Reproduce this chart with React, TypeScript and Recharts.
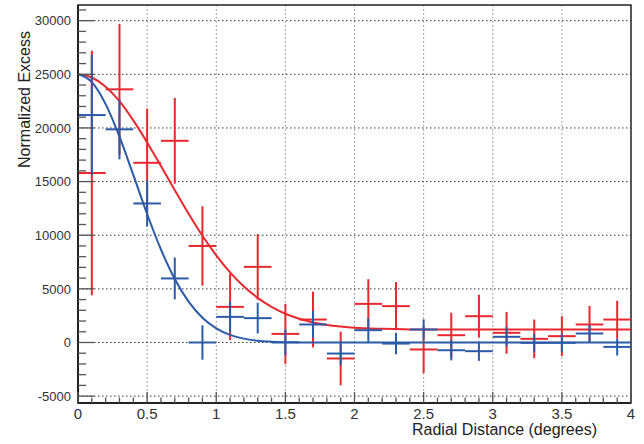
import React from 'react';
import { ComposedChart, Line, Scatter, ErrorBar, XAxis, YAxis, CartesianGrid, ReferenceArea } from 'recharts';

// bin centres (degrees), each bin is +-0.1 wide
const X_BINS = [0.1, 0.3, 0.5, 0.7, 0.9, 1.1, 1.3, 1.5, 1.7, 1.9, 2.1, 2.3, 2.5, 2.7, 2.9, 3.1, 3.3, 3.5, 3.7, 3.9];
const X_HALF_WIDTH = 0.1;

const RED_Y = [15800, 23600, 16750, 18800, 9000, 3320, 7050, 800, 2140, -1490, 3600, 3390, -650, 680, 2450, 900, 340, 590, 1680, 2140];
const RED_ERR = [11400, 6100, 5050, 4000, 3700, 3100, 3050, 2800, 2600, 2500, 2300, 2250, 2200, 2100, 2000, 1950, 1800, 1850, 1720, 1750];

const BLUE_Y = [21200, 19870, 12960, 5970, 0, 2390, 2270, 0, 1680, -1030, 1150, -100, 1210, -720, -810, 530, -30, -30, 840, -410];
const BLUE_ERR = [5600, 2800, 2150, 1950, 1600, 1430, 1430, 1200, 1250, 1100, 1100, 1000, 950, 950, 900, 900, 820, 850, 800, 800];

// fitted curves
const CURVE_X = [0, 0.1, 0.2, 0.3, 0.4, 0.5, 0.6, 0.7, 0.8, 0.9, 1.0, 1.1, 1.2, 1.3, 1.4, 1.5, 1.6, 1.7, 1.8, 1.9, 2.0, 2.2, 2.4, 2.6, 3.0, 3.5, 4.0];
const RED_FIT = [25000, 24700, 23850, 22500, 20700, 18650, 16450, 14200, 12000, 9950, 8130, 6540, 5220, 4160, 3320, 2680, 2210, 1870, 1630, 1480, 1370, 1270, 1220, 1210, 1200, 1200, 1200];
const BLUE_FIT = [25000, 24270, 22220, 19180, 15620, 11980, 8670, 5920, 3810, 2310, 1320, 710, 360, 170, 80, 30, 10, 0, 0, 0, 0, 0, 0, 0, 0, 0, 0];

const X_TICKS = [0, 0.1, 0.2, 0.3, 0.4, 0.5, 0.6, 0.7, 0.8, 0.9, 1, 1.1, 1.2, 1.3, 1.4, 1.5, 1.6, 1.7, 1.8, 1.9, 2, 2.1, 2.2, 2.3, 2.4, 2.5, 2.6, 2.7, 2.8, 2.9, 3, 3.1, 3.2, 3.3, 3.4, 3.5, 3.6, 3.7, 3.8, 3.9, 4];
const Y_TICKS = [-5000, -4000, -3000, -2000, -1000, 0, 1000, 2000, 3000, 4000, 5000, 6000, 7000, 8000, 9000, 10000, 11000, 12000, 13000, 14000, 15000, 16000, 17000, 18000, 19000, 20000, 21000, 22000, 23000, 24000, 25000, 26000, 27000, 28000, 29000, 30000, 31000];
const X_GRID = [0.5, 1, 1.5, 2, 2.5, 3, 3.5];
const Y_GRID = [-5000, 0, 5000, 10000, 15000, 20000, 25000, 30000];

const X_DOMAIN = [0, 4];
const Y_DOMAIN = [-5640, 31460];

const RED = '#e8282e';
const BLUE = '#2b5ba8';
const FONT = '"Liberation Sans", Arial, sans-serif';

const redPoints = X_BINS.map((x, i) => ({ x, y: RED_Y[i], ey: RED_ERR[i], ex: X_HALF_WIDTH }));
const bluePoints = X_BINS.map((x, i) => ({ x, y: BLUE_Y[i], ey: BLUE_ERR[i], ex: X_HALF_WIDTH }));
const redCurve = CURVE_X.map((x, i) => ({ x, y: RED_FIT[i] }));
const blueCurve = CURVE_X.map((x, i) => ({ x, y: BLUE_FIT[i] }));

const YTick = ({ x, y, payload }: any) => {
  const v = payload.value;
  const major = v % 5000 === 0;
  return (
    <g>
      <line x1={x} x2={x + (major ? 16 : 8)} y1={y} y2={y} stroke="#555" strokeWidth={1.3} />
      {major && (
        <text x={x - 7} y={y} dy="0.36em" textAnchor="end" fontSize={13} fill="#333" fontFamily={FONT}>
          {v}
        </text>
      )}
    </g>
  );
};

const XTick = ({ x, y, payload }: any) => {
  const v = payload.value;
  const major = Math.abs(v * 2 - Math.round(v * 2)) < 1e-6;
  return (
    <g>
      <line x1={x} x2={x} y1={y} y2={y - (major ? 11 : 5.5)} stroke="#555" strokeWidth={1.3} />
      {major && (
        <text x={x} y={y + 11} dy="0.36em" textAnchor="middle" fontSize={15} fill="#333" fontFamily={FONT}>
          {v}
        </text>
      )}
    </g>
  );
};

const hidden = () => <g />;

export default function App() {
  return (
    <div style={{ position: 'absolute', left: 0, top: 0, background: '#fff' }}>
      <ComposedChart width={644} height={444} margin={{ top: 5, right: 13, bottom: 0, left: 0 }}>
        <CartesianGrid horizontal={false} verticalValues={X_GRID} stroke="#888" strokeDasharray="1.5 2.5" />
        <CartesianGrid vertical={false} horizontalValues={Y_GRID} stroke="#333" strokeDasharray="1.5 2.5" />
        <XAxis
          type="number"
          dataKey="x"
          domain={X_DOMAIN}
          allowDataOverflow
          ticks={X_TICKS}
          interval={0}
          height={41}
          tickSize={0}
          tickMargin={0}
          tick={<XTick />}
          axisLine={{ stroke: '#222', strokeWidth: 2 }}
          label={{
            content: () => (
              <text x={597} y={435} textAnchor="end" fontSize={16} fill="#222" fontFamily={FONT}>
                Radial Distance (degrees)
              </text>
            ),
          }}
        />
        <YAxis
          type="number"
          dataKey="y"
          domain={Y_DOMAIN}
          allowDataOverflow
          ticks={Y_TICKS}
          interval={0}
          width={78}
          tickSize={0}
          tickMargin={0}
          tick={<YTick />}
          axisLine={{ stroke: '#222', strokeWidth: 2 }}
          label={{
            content: () => (
              <text transform="translate(30,31) rotate(-90)" textAnchor="end" fontSize={16} fill="#222" fontFamily={FONT}>
                Normalized Excess
              </text>
            ),
          }}
        />
        <ReferenceArea
          x1={X_DOMAIN[0]}
          x2={X_DOMAIN[1]}
          y1={Y_DOMAIN[0]}
          y2={Y_DOMAIN[1]}
          fill="none"
          stroke="#222"
          strokeWidth={1.5}
        />
        <Scatter data={redPoints} dataKey="y" shape={hidden} isAnimationActive={false}>
          <ErrorBar dataKey="ey" direction="y" width={0} stroke={RED} strokeWidth={2} />
          <ErrorBar dataKey="ex" direction="x" width={0} stroke={RED} strokeWidth={2} />
        </Scatter>
        <Line data={redCurve} dataKey="y" type="monotone" stroke={RED} strokeWidth={2} dot={false} isAnimationActive={false} />
        <Scatter data={bluePoints} dataKey="y" shape={hidden} isAnimationActive={false}>
          <ErrorBar dataKey="ey" direction="y" width={0} stroke={BLUE} strokeWidth={2} />
          <ErrorBar dataKey="ex" direction="x" width={0} stroke={BLUE} strokeWidth={2} />
        </Scatter>
        <Line data={blueCurve} dataKey="y" type="monotone" stroke={BLUE} strokeWidth={2} dot={false} isAnimationActive={false} />
      </ComposedChart>
    </div>
  );
}
